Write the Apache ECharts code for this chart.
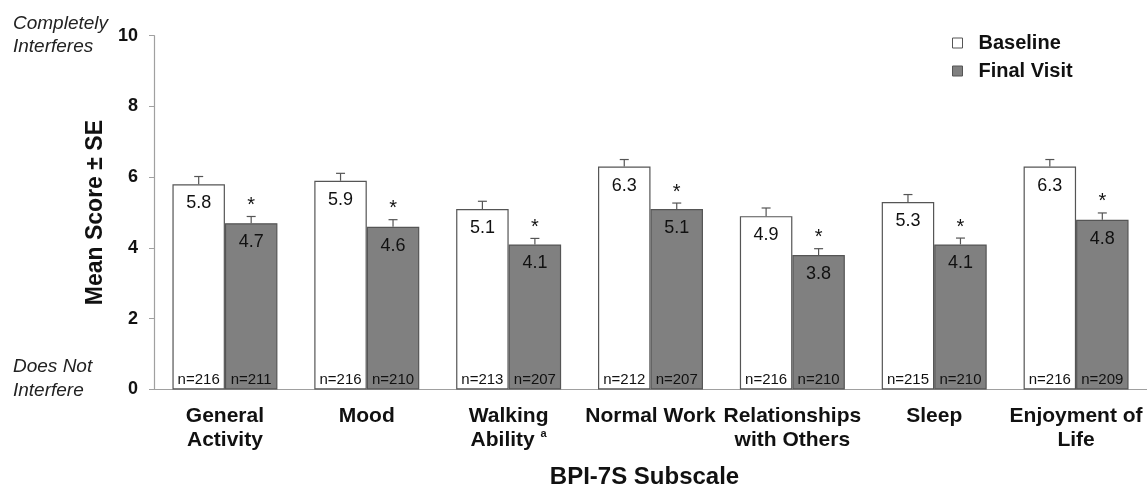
<!DOCTYPE html>
<html>
<head>
<meta charset="utf-8">
<script src="https://cdn.jsdelivr.net/npm/echarts@6/dist/echarts.min.js"></script>
<style>
  html, body { margin: 0; padding: 0; background: #fff; }
  #chart { width: 1147px; height: 489px; }
</style>
</head>
<body>
<div id="chart"></div>
<script>
// BPI-7S subscales
var categories = ['General\nActivity', 'Mood', 'Walking\nAbility', 'Normal Work', 'Relationships\nwith Others', 'Sleep', 'Enjoyment of\nLife'];
var baseline   = [5.8, 5.9, 5.1, 6.3, 4.9, 5.3, 6.3];
var finalVisit = [4.7, 4.6, 4.1, 5.1, 3.8, 4.1, 4.8];
var baselineSE = [0.22, 0.21, 0.22, 0.2, 0.23, 0.21, 0.2];
var finalSE    = [0.19, 0.2, 0.17, 0.17, 0.18, 0.18, 0.19];
var baselineN  = [216, 216, 213, 212, 216, 215, 216];
var finalN     = [211, 210, 207, 207, 210, 210, 209];
var finalStar  = [true, true, true, true, true, true, true];
var yTicks     = [0, 2, 4, 6, 8, 10];

var BAR_FRAC = 0.37;
var FONT = 'Arial, "Liberation Sans", sans-serif';

function errorSeries(name, values, se, ns, stars, side) {
  return {
    type: 'custom',
    name: name + ' SE',
    z: 5,
    silent: true,
    data: values.map(function (v, i) { return [i, v, se[i]]; }),
    renderItem: function (params, api) {
      var i = api.value(0);
      var v = api.value(1);
      var e = api.value(2);
      var band = api.size([1, 0])[0];
      var x = api.coord([i, v])[0] + side * band * BAR_FRAC / 2;
      var yTop = api.coord([i, v])[1];
      var yErr = api.coord([i, v + e])[1];
      var y0 = api.coord([i, 0])[1];
      var st = { stroke: '#555', lineWidth: 1.2 };
      var kids = [
        { type: 'line', shape: { x1: x, y1: yTop, x2: x, y2: yErr }, style: st },
        { type: 'line', shape: { x1: x - 4.5, y1: yErr, x2: x + 4.5, y2: yErr }, style: st },
        { type: 'text', x: x, y: y0 - 9.5, style: { text: 'n=' + ns[i], font: '15px ' + FONT, fill: '#111', align: 'center', verticalAlign: 'middle' } }
      ];
      if (stars && stars[i]) {
        kids.push({ type: 'text', x: x, y: yErr - 11, style: { text: '*', font: '20px ' + FONT, fill: '#111', align: 'center', verticalAlign: 'middle' } });
      }
      return { type: 'group', children: kids };
    }
  };
}

var chart = echarts.init(document.getElementById('chart'));
chart.setOption({
  animation: false,
  textStyle: { fontFamily: FONT },
  grid: { left: 154, right: 0, top: 35.7, bottom: 99.5, containLabel: false, outerBoundsMode: 'none' },
  legend: {
    orient: 'vertical',
    left: 947,
    top: 28,
    icon: 'rect',
    itemWidth: 10,
    itemHeight: 10,
    itemGap: 8,
    data: ['Baseline', 'Final Visit'],
    itemStyle: { borderColor: '#555', borderWidth: 1 },
    textStyle: { fontSize: 20, fontWeight: 'bold', color: '#111', padding: [0, 0, 0, 11] }
  },
  graphic: [
    { type: 'text', left: 13, top: 12, style: { text: 'Completely\nInterferes', font: 'italic 19px ' + FONT, fill: '#222', lineHeight: 23 } },
    { type: 'text', left: 13, top: 355, style: { text: 'Does Not\nInterfere', font: 'italic 19px ' + FONT, fill: '#222', lineHeight: 24 } }
  ],
  xAxis: {
    type: 'category',
    data: categories,
    name: 'BPI-7S Subscale',
    nameLocation: 'middle',
    nameGap: 76,
    nameTextStyle: { fontSize: 24, fontWeight: 'bold', color: '#111', padding: [0, 12, 0, 0] },
    axisLine: { lineStyle: { color: '#a0a0a0', width: 1.2 } },
    axisTick: { length: 8, lineStyle: { color: '#a0a0a0' } },
    axisLabel: {
      interval: 0,
      margin: 15,
      fontSize: 21,
      fontWeight: 'bold',
      color: '#111',
      lineHeight: 24,
      formatter: function (v) {
        return v === 'Walking\nAbility' ? 'Walking\nAbility {sup|a}' : v;
      },
      rich: {
        sup: { fontSize: 11, fontWeight: 'bold', color: '#111', verticalAlign: 'top', lineHeight: 24, padding: [0, 0, 10, 0] }
      }
    }
  },
  yAxis: {
    type: 'value',
    min: 0,
    max: 10,
    interval: 2,
    name: 'Mean Score \u00b1 SE',
    nameLocation: 'middle',
    nameRotate: 90,
    nameGap: 42,
    nameTextStyle: { fontSize: 23, fontWeight: 'bold', color: '#111' },
    axisLine: { show: true, lineStyle: { color: '#a0a0a0', width: 1.2 } },
    axisTick: { show: true, length: 5, lineStyle: { color: '#a0a0a0' } },
    splitLine: { show: false },
    axisLabel: {
      margin: 16,
      fontSize: 18,
      fontWeight: 'bold',
      color: '#111',
      formatter: function (v) { return yTicks.indexOf(v) >= 0 ? String(v) : ''; }
    }
  },
  series: [
    {
      name: 'Baseline',
      type: 'bar',
      data: baseline,
      barWidth: (BAR_FRAC * 100) + '%',
      barGap: '0%',
      itemStyle: { color: '#ffffff', borderColor: '#555', borderWidth: 1.2 },
      label: { show: true, position: 'insideTop', distance: 10, fontSize: 18, color: '#111', formatter: function (p) { return p.value.toFixed(1); } }
    },
    {
      name: 'Final Visit',
      type: 'bar',
      data: finalVisit,
      barWidth: (BAR_FRAC * 100) + '%',
      barGap: '0%',
      itemStyle: { color: '#808080', borderColor: '#555', borderWidth: 1.2 },
      label: { show: true, position: 'insideTop', distance: 10, fontSize: 18, color: '#111', formatter: function (p) { return p.value.toFixed(1); } }
    },
    errorSeries('Baseline', baseline, baselineSE, baselineN, null, -1),
    errorSeries('Final Visit', finalVisit, finalSE, finalN, finalStar, 1)
  ]
});
</script>
</body>
</html>
